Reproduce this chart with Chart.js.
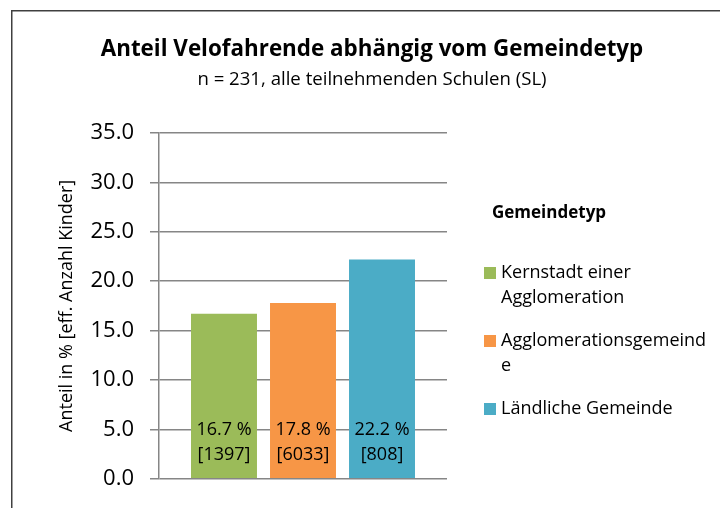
<!DOCTYPE html>
<html>
<head>
<meta charset="utf-8">
<script src="https://cdn.jsdelivr.net/npm/chart.js@4/dist/chart.umd.min.js"></script>
<style>
  html, body { margin: 0; padding: 0; background: #fff; overflow: hidden; }
  #wrap { position: relative; width: 720px; height: 508px; }
</style>
</head>
<body>
<div id="wrap"><canvas id="gemeindeChart" width="720" height="508"></canvas></div>
<script>
// Gemeindetypen (legend lines as wrapped in the original)
const categories = [
  ['Kernstadt einer', 'Agglomeration'],
  ['Agglomerationsgemeind', 'e'],
  ['Ländliche Gemeinde']
];
const shares = [16.7, 17.8, 22.2];     // Anteil in %
const counts = [1397, 6033, 808];      // eff. Anzahl Kinder
const colors = ['#9BBB59', '#F79646', '#4BACC6'];
const yTickMin = 0, yTickMax = 35, yTickStep = 5;

const chartTitle = 'Anteil Velofahrende abhängig vom Gemeindetyp';
const chartSubtitle = 'n = 231, alle teilnehmenden Schulen (SL)';
const legendTitle = 'Gemeindetyp';
const yTitle = 'Anteil in % [eff. Anzahl Kinder]';

const FONT = '"Open Sans", "Noto Sans", sans-serif';
const gridGray = '#868686';

const frame = {
  id: 'frame',
  beforeDraw(chart) {
    const ctx = chart.ctx;
    ctx.save();
    ctx.strokeStyle = '#404040';
    ctx.lineWidth = 1.5;
    ctx.beginPath();
    ctx.moveTo(11.75, 600);
    ctx.lineTo(11.75, 10.75);
    ctx.lineTo(800, 10.75);
    ctx.stroke();
    ctx.restore();
  }
};

const titles = {
  id: 'titles',
  afterDraw(chart) {
    const ctx = chart.ctx;
    ctx.save();
    ctx.fillStyle = '#000';
    ctx.textAlign = 'center';
    ctx.textBaseline = 'alphabetic';
    ctx.font = 'bold 22.4px ' + FONT;
    ctx.fillText(chartTitle, 372, 56);
    ctx.font = '18.6px ' + FONT;
    ctx.fillText(chartSubtitle, 372, 85);
    ctx.restore();
  }
};

const barLabels = {
  id: 'barLabels',
  afterDatasetsDraw(chart) {
    const ctx = chart.ctx;
    ctx.save();
    ctx.fillStyle = '#000';
    ctx.textAlign = 'center';
    ctx.textBaseline = 'middle';
    ctx.font = '18px ' + FONT;
    chart.data.datasets.forEach((ds, i) => {
      const el = chart.getDatasetMeta(i).data[0];
      ctx.fillText(shares[i].toFixed(1) + ' %', el.x, el.base - 48);
      ctx.fillText('[' + counts[i] + ']', el.x, el.base - 23);
    });
    ctx.restore();
  }
};

const sideLegend = {
  id: 'sideLegend',
  afterDraw(chart) {
    const ctx = chart.ctx;
    const x0 = 484;
    ctx.save();
    ctx.fillStyle = '#000';
    ctx.textBaseline = 'middle';
    ctx.textAlign = 'left';
    ctx.font = 'bold 17px ' + FONT;
    ctx.fillText(legendTitle, x0 + 8, 213);
    ctx.font = '18px ' + FONT;
    let y = 273;
    chart.data.datasets.forEach((ds) => {
      ctx.fillStyle = ds.backgroundColor;
      ctx.fillRect(x0, y - 6, 12, 12);
      ctx.fillStyle = '#000';
      ds.label.forEach((line, k) => {
        ctx.fillText(line, x0 + 17, y + k * 25);
      });
      y += (ds.label.length - 1) * 25 + 43;
    });
    ctx.restore();
  }
};

new Chart(document.getElementById('gemeindeChart'), {
  type: 'bar',
  data: {
    labels: [''],
    datasets: categories.map((cat, i) => ({
      label: cat,
      data: [shares[i]],
      backgroundColor: colors[i],
      borderWidth: 0,
      categoryPercentage: 0.823,
      barPercentage: 0.835
    }))
  },
  options: {
    responsive: false,
    animation: false,
    devicePixelRatio: 1,
    layout: { padding: { left: 52, right: 273, top: 133, bottom: 28 } },
    plugins: {
      legend: { display: false },
      title: { display: false },
      tooltip: { enabled: false }
    },
    scales: {
      x: { display: false },
      y: {
        min: yTickMin,
        max: yTickMax,
        afterFit: (scale) => { scale.width = 107; },
        ticks: {
          stepSize: yTickStep,
          padding: 16,
          color: '#000',
          font: { family: FONT, size: 22 },
          callback: (v) => Number(v).toFixed(1)
        },
        grid: { color: gridGray, lineWidth: 1.5, tickLength: 9, tickColor: gridGray },
        border: { color: gridGray, width: 1.5 },
        title: {
          display: true,
          text: yTitle,
          color: '#000',
          font: { family: FONT, size: 18 },
          padding: { top: 4, bottom: 4 }
        }
      }
    }
  },
  plugins: [frame, titles, barLabels, sideLegend]
});
</script>
</body>
</html>
